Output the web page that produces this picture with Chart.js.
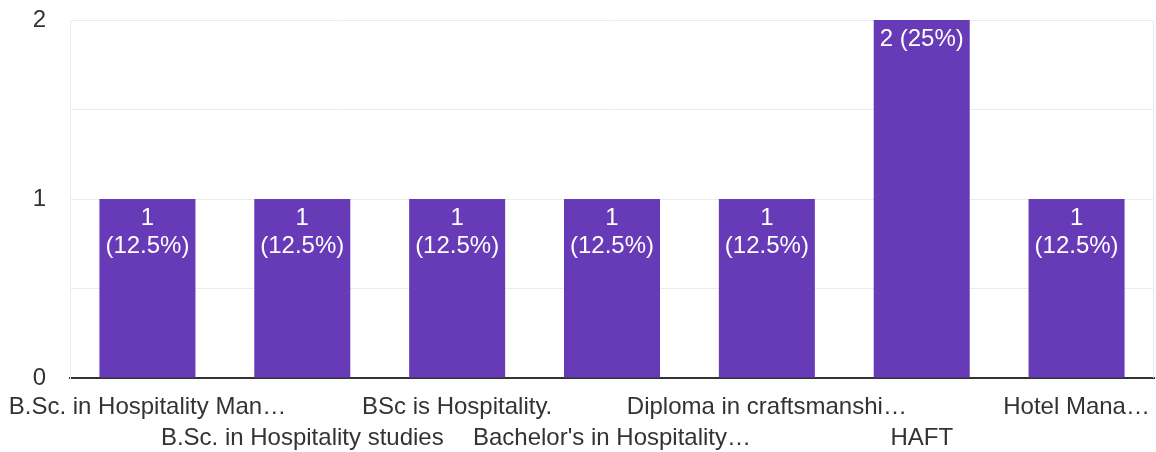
<!DOCTYPE html>
<html>
<head>
<meta charset="utf-8">
<script src="https://cdn.jsdelivr.net/npm/chart.js@4"></script>
<style>
html,body{margin:0;padding:0;background:#fff;}
#wrap{width:1156px;height:452px;position:relative;}
</style>
</head>
<body>
<div id="wrap"><canvas id="c" width="1156" height="452"></canvas></div>
<script>
const categories = [
  "B.Sc. in Hospitality Man\u2026",
  "B.Sc. in Hospitality studies",
  "BSc is Hospitality.",
  "Bachelor's in Hospitality\u2026",
  "Diploma in craftsmanshi\u2026",
  "HAFT",
  "Hotel Mana\u2026"
];
const counts = [1, 1, 1, 1, 1, 2, 1];
const percentLabels = ["12.5%", "12.5%", "12.5%", "12.5%", "12.5%", "25%", "12.5%"];
const yTickLabels = ["0", "1", "2"];

const FONT = "Arial, 'Liberation Sans', sans-serif";

const barLabelPlugin = {
  id: 'barLabels',
  afterDatasetsDraw(chart) {
    const ctx = chart.ctx;
    const meta = chart.getDatasetMeta(0);
    ctx.save();
    ctx.font = "24px " + FONT;
    ctx.fillStyle = "#ffffff";
    ctx.textAlign = "center";
    ctx.textBaseline = "alphabetic";
    meta.data.forEach((bar, i) => {
      const full = counts[i] + " (" + percentLabels[i] + ")";
      const w = bar.width;
      let lines = [full];
      if (ctx.measureText(full).width > w) {
        lines = [String(counts[i]), "(" + percentLabels[i] + ")"];
      }
      lines.forEach((ln, k) => {
        ctx.fillText(ln, bar.x, bar.y + 26 + k * 28);
      });
    });
    ctx.restore();
  }
};

const framePlugin = {
  id: 'frame',
  beforeDatasetsDraw(chart) {
    const a = chart.chartArea;
    const ctx = chart.ctx;
    ctx.save();
    ctx.strokeStyle = "#ebebeb";
    ctx.lineWidth = 1;
    ctx.beginPath();
    ctx.moveTo(a.right - 0.5, a.top);
    ctx.lineTo(a.right - 0.5, a.bottom);
    ctx.stroke();
    ctx.restore();
  }
};

new Chart(document.getElementById('c'), {
  type: 'bar',
  data: {
    labels: categories,
    datasets: [{
      data: counts,
      backgroundColor: "#673ab7",
      borderWidth: 0,
      barPercentage: 0.62,
      categoryPercentage: 1.0
    }]
  },
  options: {
    responsive: false,
    animation: false,
    devicePixelRatio: 1,
    layout: { padding: { top: 20, right: 2, left: 0, bottom: 0 } },
    plugins: { legend: { display: false }, tooltip: { enabled: false } },
    scales: {
      x: {
        grid: { display: false, drawTicks: false },
        border: { display: true, color: "#333333", width: 2 },
        ticks: {
          autoSkip: false,
          maxRotation: 0,
          minRotation: 0,
          padding: 14,
          color: "#333333",
          font: { family: FONT, size: 24, lineHeight: 1.3 },
          callback: function(v, i) {
            const l = categories[i];
            return i % 2 === 1 ? ["", l] : l;
          }
        },
        afterFit(scale) {
          scale.height = 74;
          scale.paddingLeft = 0;
          scale.paddingRight = 0;
          scale.paddingTop = 0;
          scale.paddingBottom = 0;
        }
      },
      y: {
        min: 0,
        max: 2,
        grid: { color: "#ebebeb", lineWidth: 1, drawTicks: false },
        border: { display: true, color: "#ebebeb", width: 1 },
        ticks: {
          stepSize: 0.5,
          padding: 24,
          color: "#333333",
          font: { family: FONT, size: 24 },
          callback: function(v) {
            return Number.isInteger(v) ? yTickLabels[v] : "";
          }
        },
        afterFit(scale) {
          scale.width = 70;
          scale.paddingTop = 0;
          scale.paddingBottom = 0;
        }
      }
    }
  },
  plugins: [framePlugin, barLabelPlugin]
});
</script>
</body>
</html>
